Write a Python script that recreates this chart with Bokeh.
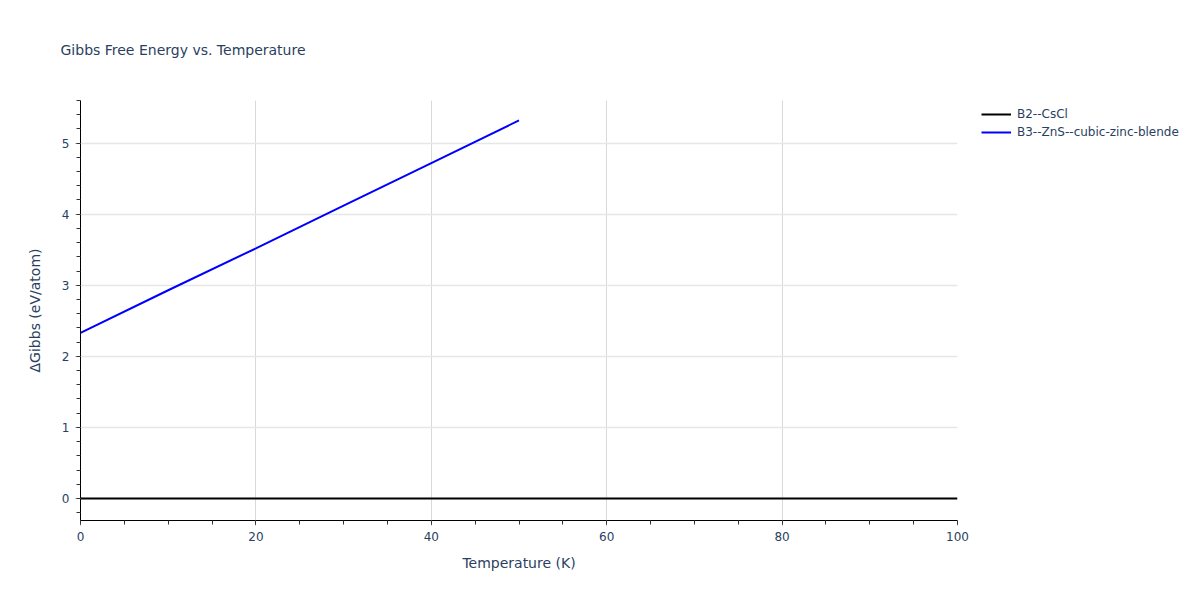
import bokeh.plotting
import bokeh.models
from bokeh.embed import file_html
from bokeh.resources import INLINE

# values
temps_b2 = [0, 10, 20, 30, 40, 50, 60, 70, 80, 90, 100]
gibbs_b2 = [0, 0, 0, 0, 0, 0, 0, 0, 0, 0, 0]
temps_b3 = [0, 10, 20, 30, 40, 50]
gibbs_b3 = [2.33, 2.93, 3.52, 4.12, 4.72, 5.32]
series_names = ["B2--CsCl", "B3--ZnS--cubic-zinc-blende"]
series_colors = ["black", "blue"]

FONT = "DejaVu Sans"
TEXT = "#2a3f5f"

p = bokeh.plotting.figure(
    frame_width=877,
    frame_height=420,
    min_border_left=80,
    min_border_right=0,
    min_border_top=100,
    min_border_bottom=64,
    x_range=(0, 100),
    y_range=(-0.31, 5.6),
    output_backend="svg",
    toolbar_location=None,
    title="Gibbs Free Energy vs. Temperature",
)
p.outline_line_color = None

p.title.text_font = FONT
p.title.text_font_size = "14px"
p.title.text_font_style = "normal"
p.title.text_color = TEXT
p.title.align = "left"
p.title.vertical_align = "top"
p.title.offset = -20
p.title.standoff = 82

r1 = p.line(temps_b2, gibbs_b2, line_color=series_colors[0], line_width=2)
r2 = p.line(temps_b3, gibbs_b3, line_color=series_colors[1], line_width=2)

p.xaxis.ticker = bokeh.models.SingleIntervalTicker(interval=20, num_minor_ticks=4)
p.yaxis.ticker = bokeh.models.SingleIntervalTicker(interval=1, num_minor_ticks=5)

p.xaxis.axis_label = "Temperature (K)"
p.yaxis.axis_label = "\u0394Gibbs (eV/atom)"
for ax in (p.xaxis, p.yaxis):
    ax.axis_label_text_font = FONT
    ax.axis_label_text_font_size = "14px"
    ax.axis_label_text_font_style = "normal"
    ax.axis_label_text_color = TEXT
    ax.major_label_text_font = FONT
    ax.major_label_text_font_size = "12px"
    ax.major_label_text_color = TEXT
    ax.axis_line_color = "black"
    ax.major_tick_line_color = "#999999"
    ax.minor_tick_line_color = "#333333"
    ax.major_tick_out = 5
    ax.major_tick_in = 0
    ax.minor_tick_out = 4
    ax.minor_tick_in = 0
p.xaxis.major_label_standoff = 6
p.xaxis.axis_label_standoff = 11
p.yaxis.major_label_standoff = 6
p.yaxis.axis_label_standoff = 16

p.xgrid.grid_line_color = "#d9d9d9"
p.ygrid.grid_line_color = "#e6e6e6"
p.ygrid.grid_line_width = 1.5

legend = bokeh.models.Legend(
    items=[(series_names[0], [r1]), (series_names[1], [r2])],
    location=(24, 379),
    padding=0,
    margin=0,
    spacing=0,
    glyph_width=30,
    glyph_height=18,
    label_height=18,
    label_standoff=6,
    label_text_font=FONT,
    label_text_font_size="12px",
    label_text_color=TEXT,
    border_line_color=None,
    background_fill_alpha=0,
)
p.add_layout(legend, "right")

open("out.html", "w").write(file_html(p, INLINE))
